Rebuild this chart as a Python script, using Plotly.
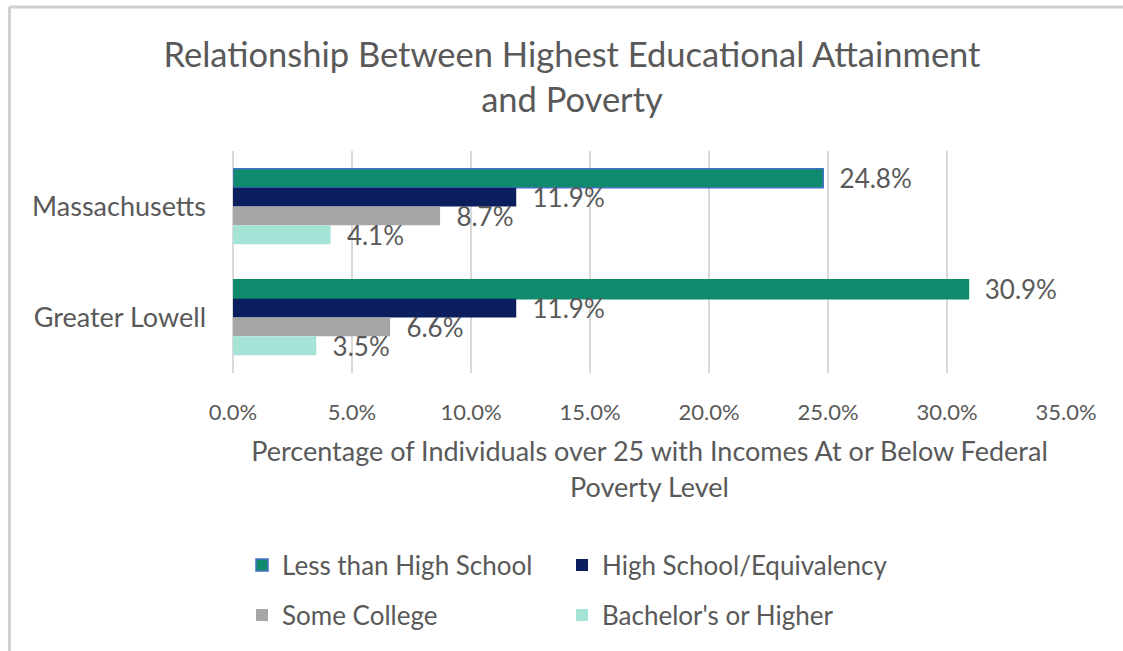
import plotly.graph_objects as go

categories = ["Massachusetts", "Greater Lowell"]
series_names = ["Less than High School", "High School/Equivalency", "Some College", "Bachelor's or Higher"]
less_than_hs = [24.8, 30.9]
hs_equiv = [11.9, 11.9]
some_college = [8.7, 6.6]
bachelors = [4.1, 3.5]
x_ticks = [0, 5, 10, 15, 20, 25, 30, 35]
x_tick_labels = ["0.0%", "5.0%", "10.0%", "15.0%", "20.0%", "25.0%", "30.0%", "35.0%"]

colors = ["#0F8A6D", "#0B1F5E", "#A6A6A6", "#A6E3D7"]
values = [less_than_hs, hs_equiv, some_college, bachelors]
legend_ids = ["legend", "legend2", "legend3", "legend4"]

FONT = "Lato"
GREY = "#595959"

fig = go.Figure()
for i, (name, vals, col) in enumerate(zip(series_names, values, colors)):
    line_cols = [col] * len(vals)
    line_w = 0
    if i == 0:
        line_cols = ["#4472C4", col]
        line_w = 1.5
    fig.add_trace(go.Bar(
        y=categories, x=vals, name=name, orientation="h",
        marker=dict(color=col, line=dict(color=line_cols, width=line_w)),
        text=[f"\u00a0\u00a0{v:.1f}%" for v in vals],
        textposition="outside", constraintext="none", cliponaxis=False,
        textfont=dict(family=FONT, size=26, color=GREY),
        legend=legend_ids[i], hoverinfo="x+y",
    ))

L, R, T, B = 233, 1066, 151, 373
W, H = 1123, 651
pw, ph = R - L, B - T

def px(x):
    return (x - L) / pw

def py(y):
    return (B - y) / ph

legend_pos = [(242, 565), (562, 565), (242, 615), (562, 615)]
legend_cfg = {}
for lid, (lx, ly) in zip(legend_ids, legend_pos):
    legend_cfg[lid] = dict(
        orientation="h", x=px(lx), xanchor="left", y=py(ly), yanchor="middle",
        font=dict(family=FONT, size=26, color=GREY),
        bgcolor="rgba(0,0,0,0)",
    )

fig.update_layout(
    width=W, height=H,
    margin=dict(l=L, r=W - R, t=T, b=H - B, pad=0, autoexpand=False),
    paper_bgcolor="white", plot_bgcolor="white",
    barmode="group", bargap=0.32, bargroupgap=0,
    font=dict(family=FONT, color=GREY),
    title=dict(
        text="Relationship Between Highest Educational Attainment<br>and Poverty",
        x=px(572), xref="paper", xanchor="center",
        y=1 - 67 / H, yanchor="middle", yref="container",
        font=dict(family=FONT, size=34.5, color=GREY),
    ),
    xaxis=dict(
        range=[0, 35], tickvals=x_ticks, ticktext=x_tick_labels,
        showgrid=True, gridcolor="#D9D9D9", gridwidth=1.5,
        zeroline=True, zerolinecolor="#D9D9D9", zerolinewidth=1.5,
        showline=False, ticks="", ticklabelstandoff=24,
        tickfont=dict(family=FONT, size=22, color=GREY),
        title=dict(
            text="Percentage of Individuals over 25 with Incomes At or Below Federal<br>Poverty Level",
            font=dict(family=FONT, size=27, color=GREY), standoff=18,
        ),
        fixedrange=True,
    ),
    yaxis=dict(
        autorange="reversed", showgrid=False, zeroline=False, showline=False,
        ticks="", ticklabelstandoff=26,
        tickfont=dict(family=FONT, size=27, color=GREY),
        fixedrange=True,
    ),
    showlegend=True,
    shapes=[
        dict(type="line", xref="paper", yref="paper",
             x0=px(9.5), x1=px(W + 20), y0=py(7), y1=py(7),
             line=dict(color="#D0D0D0", width=3), layer="below"),
        dict(type="line", xref="paper", yref="paper",
             x0=px(9.5), x1=px(9.5), y0=py(7), y1=py(H + 20),
             line=dict(color="#D0D0D0", width=3), layer="below"),
    ],
    **legend_cfg,
)

fig.write_html(
    "out.html",
    config={"displayModeBar": False},
    post_script="document.documentElement.style.overflow='hidden';"
                "document.body.style.margin='0';document.body.style.padding='0';"
                "document.body.style.overflow='hidden';",
)
